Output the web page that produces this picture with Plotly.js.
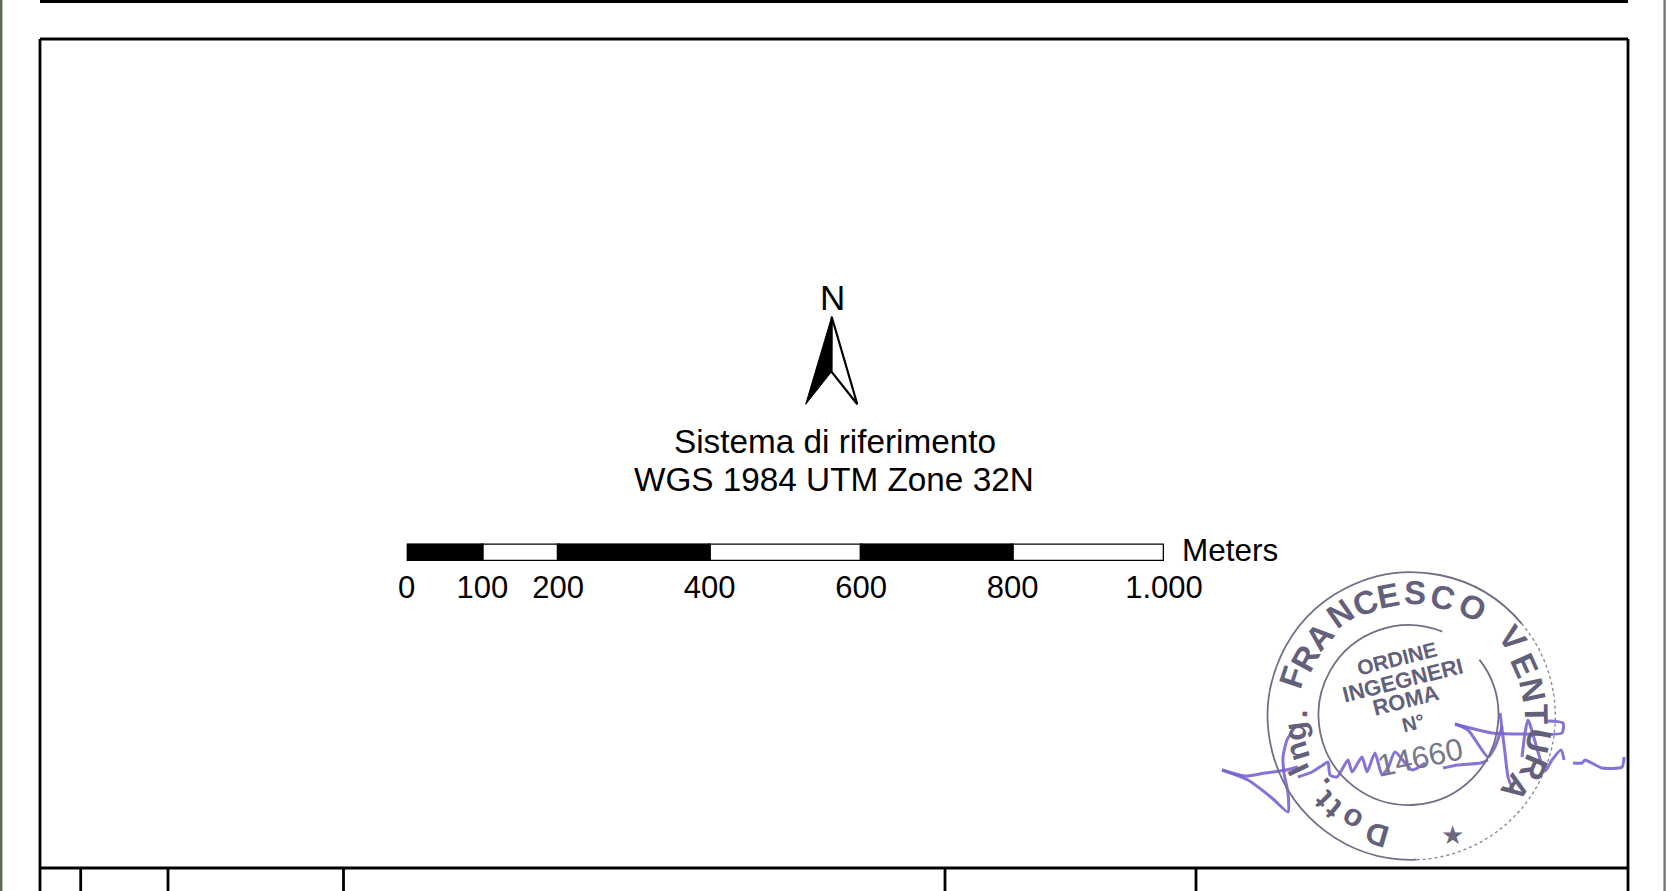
<!DOCTYPE html>
<html>
<head>
<meta charset="utf-8">
<script src="https://cdn.plot.ly/plotly-3.0.1.min.js"></script>
<style>html,body{margin:0;padding:0;background:#fff;overflow:hidden}#chart{width:1666px;height:891px}</style>
</head>
<body>
<div id="chart"></div>
<script>
// Scale bar
var scaleStops = [0, 100, 200, 400, 600, 800, 1000];
var scaleLabels = ['0', '100', '200', '400', '600', '800', '1.000'];
var scaleColors = ['#000', '#fff', '#000', '#fff', '#000', '#fff'];
var scaleUnit = 'Meters';

// Text blocks
var northLabel = 'N';
var crsLines = ['Sistema di riferimento', 'WGS 1984 UTM Zone 32N'];

// Stamp text (letter, page x, page y)
var stampLetters = ['F','R','A','N','C','E','S','C','O','V','E','N','T','U','R','A'];
var stampLetterX = [1292,1305,1319,1340,1365,1388,1415,1443,1473,1513,1525,1533,1537,1539,1534,1516];
var stampLetterY = [677,658,636,613,602,595,592,597,607,638,665,690,714,741,768,788];
var dottLetters = ['D','o','t','t','.','I','n','g','.'];
var dottX = [1377,1352,1333,1323,1320,1298,1297,1295,1296];
var dottY = [835,820,810,800,786,770,752,732,714];
var centerLines = ['ORDINE','INGEGNERI','ROMA','N°'];
var centerX = [1397,1402,1405,1413];
var centerY = [658,680,700,723];
var stampNumber = '14660';

// Signature strokes (page pixels)
var sigA = {x:[1222,1245,1265,1286,1298], y:[770,776,773,770,767]};
var sigB = {x:[1222,1248,1272,1288,1288,1284,1283,1287,1295], y:[770,780,798,812,793,773,757,740,727]};
var sigC = {x:[1298,1312,1323,1328,1330,1337,1348,1352,1362,1367,1375,1382,1388,1395,1412,1425],
            y:[777,772,765,762,775,777,760,772,757,772,753,775,768,752,770,763]};
var sigD = {x:[1443,1458,1481,1488], y:[768,765,763,760]};
var sigE = {x:[1455,1492,1525,1562,1563,1548], y:[724,733,734,733,723,721]};
var sigF = {x:[1455,1468,1488,1495,1502], y:[724,730,757,747,727]};
var sigG = {x:[1500,1505,1508,1513], y:[713,753,777,790]};
var sigH = {x:[1522,1525,1528,1545,1552,1561,1564], y:[757,733,720,771,760,750,760]};
var sigI = {x:[1573,1582,1585,1602,1622,1624], y:[763,763,760,768,767,757]};

var sigStrokes = [sigA,sigB,sigC,sigD,sigE,sigF,sigG,sigH,sigI];

function fr(px){return px/1666;}
function fy(px){return 1-px/891;}

var traces = [];
// Scale bar through a real axis
traces.push({
  type:'bar', orientation:'h',
  y:scaleColors.map(function(){return 0;}),
  base:scaleStops.slice(0,-1),
  x:scaleStops.slice(1).map(function(v,i){return v-scaleStops[i];}),
  width:1,
  marker:{color:scaleColors, line:{color:'#000', width:2.6}},
  hoverinfo:'skip', showlegend:false, cliponaxis:false, xaxis:'x', yaxis:'y'
});
// Signature
sigStrokes.forEach(function(s){
  traces.push({type:'scatter', mode:'lines', x:s.x, y:s.y, xaxis:'x2', yaxis:'y2',
    line:{color:'#7a63d2', width:3, shape:'spline', smoothing:0.6},
    opacity:0.9, hoverinfo:'skip', showlegend:false});
});

var ink = '#62607a';
var annotations = [];
function note(t,x,y,size,opt){
  opt = opt||{};
  annotations.push({text:t, x:x, y:y, xref:'x2', yref:'y2', showarrow:false,
    xanchor:opt.xanchor||'center', yanchor:'middle', textangle:opt.angle||0,
    font:{family:'Liberation Sans, Arial, sans-serif', size:size, color:opt.color||'#000', weight:opt.weight||400}});
}
note(northLabel, 832, 297, 35);
note(crsLines[0], 834.5, 441, 33.3);
note(crsLines[1], 833.5, 479, 33.3);
note(scaleUnit, 1179.5, 550, 31.5, {xanchor:'left'});

function radial(x,y){return Math.atan2(y-716,x-1411.5)*180/Math.PI+90;}
stampLetters.forEach(function(l,i){
  note(l, stampLetterX[i], stampLetterY[i], 33, {angle:radial(stampLetterX[i],stampLetterY[i]), color:ink, weight:700});
});
dottLetters.forEach(function(l,i){
  note(l, dottX[i], dottY[i], 31, {angle:radial(dottX[i],dottY[i]), color:ink, weight:700});
});
var centerSizes = [21,22,22,20];
centerLines.forEach(function(l,i){
  note(l, centerX[i], centerY[i], centerSizes[i], {angle:-14, color:ink, weight:700});
});
note(stampNumber, 1420, 757, 31, {angle:-12, color:'#77768c'});
note('★', 1452, 835, 26, {color:'#6a6880'});

// Ring arcs as cubic Béziers, angles in degrees clockwise from +x on screen
function arc(cx,cy,r,a0,a1){
  var n = Math.ceil(Math.abs(a1-a0)/45), d = (a1-a0)/n*Math.PI/180, k = 4/3*Math.tan(d/4);
  var a = a0*Math.PI/180;
  var p = 'M '+(cx+r*Math.cos(a))+' '+(cy+r*Math.sin(a));
  for(var i=0;i<n;i++){
    var b = a+d;
    p += ' C '+(cx+r*(Math.cos(a)-k*Math.sin(a)))+' '+(cy+r*(Math.sin(a)+k*Math.cos(a)))+
         ' '+(cx+r*(Math.cos(b)+k*Math.sin(b)))+' '+(cy+r*(Math.sin(b)-k*Math.cos(b)))+
         ' '+(cx+r*Math.cos(b))+' '+(cy+r*Math.sin(b));
    a = b;
  }
  return p;
}
function ring(cx,cy,r,a0,a1,line){return {type:'path', xref:'x2', yref:'y2', path:arc(cx,cy,r,a0,a1), line:line};}

var black = {color:'#000', width:2.8};
function ln(x0,y0,x1,y1,line){return {type:'line', xref:'x2', yref:'y2', x0:x0, y0:y0, x1:x1, y1:y1, line:line||black, layer:'above'};}
var shapes = [
  ln(1.2,0,1.2,891,{color:'#5d6b50',width:2.4}),
  ln(1664.6,0,1664.6,891,{color:'#777',width:2.4}),
  // upper frame remnant
  ln(40,1.5,1628,1.5),
  // main frame
  ln(40,39,1628,39), ln(40,39,40,891), ln(1628,39,1628,891),
  ln(40,868,1628,868),
  ln(80.7,868,80.7,891), ln(168,868,168,891), ln(343.5,868,343.5,891), ln(945,868,945,891), ln(1196,868,1196,891),
  // north arrow
  {type:'path', xref:'x2', yref:'y2', path:'M 831.7 316.7 L 805.7 404.3 L 831.5 371.7 Z', fillcolor:'#000', line:{color:'#000',width:1}},
  {type:'path', xref:'x2', yref:'y2', path:'M 831.7 316.7 L 857.3 404.3 L 831.5 371.7 Z', fillcolor:'#fff', line:{color:'#000',width:2.2}},
  // stamp rings
  ring(1411.5,716,143.8,88,320,{color:'#706e88',width:1.8}),
  ring(1411.5,716,143.8,320,448,{color:'#8a889c',width:1.4,dash:'dot'}),
  ring(1408.5,715,90,-38,292,{color:'#706e88',width:1.8})
];

var layout = {
  width:1666, height:891, autosize:false,
  margin:{l:0,r:0,t:0,b:0,pad:0},
  paper_bgcolor:'#fff', plot_bgcolor:'rgba(0,0,0,0)',
  showlegend:false, barmode:'overlay',
  xaxis:{domain:[fr(406.7),fr(1164)], range:[0,1000], anchor:'y', fixedrange:true,
    tickmode:'array', tickvals:scaleStops, ticktext:scaleLabels, showgrid:false, zeroline:false, showline:false,
    ticks:'', ticklabelstandoff:5, tickangle:0, automargin:false,
    tickfont:{family:'Liberation Sans, Arial, sans-serif', size:31, color:'#000'}},
  yaxis:{domain:[fy(561),fy(543.5)], range:[-0.5,0.5], anchor:'x', fixedrange:true, visible:false},
  xaxis2:{domain:[0,1], range:[0,1666], anchor:'y2', visible:false, fixedrange:true},
  yaxis2:{domain:[0,1], range:[891,0], anchor:'x2', visible:false, fixedrange:true},
  shapes:shapes, annotations:annotations
};
Plotly.newPlot('chart', traces, layout, {displayModeBar:false, staticPlot:true});
</script>
</body>
</html>
